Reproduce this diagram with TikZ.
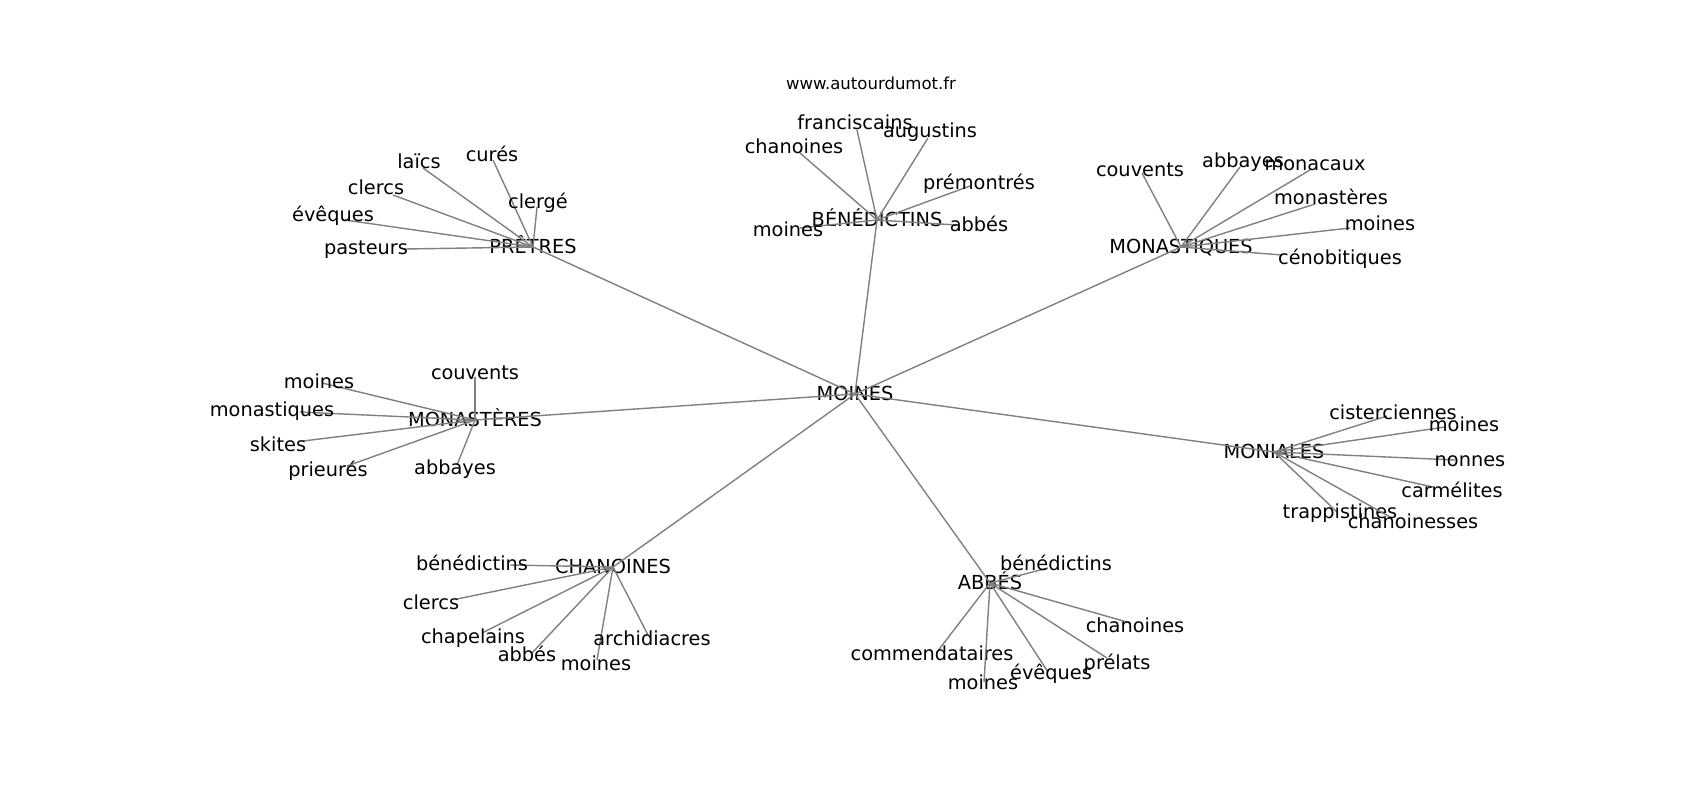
\documentclass[tikz,border=0pt]{standalone}
\usepackage{fontspec}
\setmainfont{DejaVu Sans}
\definecolor{linkGray}{RGB}{128,128,128}
\tikzset{
  wordNode/.style = {inner sep=0pt, text height=0.6em, text depth=0.22em,
    font=\fontsize{5.5}{6.6}\selectfont},
  %hub node
  hubNode/.style = {wordNode},
  %site name
  siteNode/.style = {wordNode, font=\fontsize{4.7}{5.6}\selectfont},
  %link
  linkEdge/.style = {draw=linkGray, line width=0.4pt}
}

\begin{document}
\begin{tikzpicture}[x=0.01cm, y=-0.01cm]
\useasboundingbox (0,0) rectangle (1700,800);
\node [siteNode] (site) at (871,83) {www.autourdumot.fr};

\node [hubNode] (moines) at (855,394) {MOINES};
\node [hubNode] (pretres) at (533,247) {PRÊTRES};
\node [hubNode] (benedictins) at (877,220) {BÉNÉDICTINS};
\node [hubNode] (monastiques) at (1181,247) {MONASTIQUES};
\node [hubNode] (monasteres) at (475,420) {MONASTÈRES};
\node [hubNode] (moniales) at (1274,452) {MONIALES};
\node [hubNode] (chanoines) at (613,567) {CHANOINES};
\node [hubNode] (abbes) at (990,583) {ABBÉS};

\foreach \hub in {pretres,benedictins,monastiques,monasteres,moniales,chanoines,abbes}
  \draw [linkEdge] (moines.center) -- (\hub.center);

% words round each hub: text x/y, end x/y, word
\foreach \tx/\ty/\ex/\ey/\word [count=\i] in {419/162/423/168/laïcs,
    492/155/493/160/curés, 376/188/393/195/clercs, 538/202/537/207/clergé,
    333/215/345/220/évêques, 366/248/405/249/pasteurs}
  {\coordinate (pr\i) at (\ex,\ey);
   \draw [linkEdge] (pretres.center) -- (pr\i);
   \node [wordNode] (prw\i) at (\tx,\ty) {\word};}

\foreach \tx/\ty/\ex/\ey/\word [count=\i] in {855/123/857/130/franciscains,
    930/131/928/138/augustins, 794/147/800/153/chanoines,
    979/183/970/186/prémontrés, 788/230/800/228/moines, 979/225/957/225/abbés}
  {\coordinate (be\i) at (\ex,\ey);
   \draw [linkEdge] (benedictins.center) -- (be\i);
   \node [wordNode] (bew\i) at (\tx,\ty) {\word};}

\foreach \tx/\ty/\ex/\ey/\word [count=\i] in {1140/170/1142/173/couvents,
    1243/161/1240/167/abbayes, 1315/164/1310/170/monacaux,
    1331/198/1315/204/monastères, 1380/224/1350/228/moines,
    1340/258/1282/255/cénobitiques}
  {\coordinate (mq\i) at (\ex,\ey);
   \draw [linkEdge] (monastiques.center) -- (mq\i);
   \node [wordNode] (mqw\i) at (\tx,\ty) {\word};}

\foreach \tx/\ty/\ex/\ey/\word [count=\i] in {475/373/475/377/couvents,
    319/382/322/383/moines, 272/410/300/412/monastiques,
    278/445/303/441/skites, 328/470/347/466/prieurés, 455/468/457/465/abbayes}
  {\coordinate (ms\i) at (\ex,\ey);
   \draw [linkEdge] (monasteres.center) -- (ms\i);
   \node [wordNode] (msw\i) at (\tx,\ty) {\word};}

\foreach \tx/\ty/\ex/\ey/\word [count=\i] in {1393/413/1387/416/cisterciennes,
    1464/425/1445/427/moines, 1470/460/1455/460/nonnes,
    1452/491/1433/487/carmélites, 1340/512/1337/512/trappistines,
    1413/522/1390/517/chanoinesses}
  {\coordinate (mo\i) at (\ex,\ey);
   \draw [linkEdge] (moniales.center) -- (mo\i);
   \node [wordNode] (mow\i) at (\tx,\ty) {\word};}

\foreach \tx/\ty/\ex/\ey/\word [count=\i] in {472/564/510/565/bénédictins,
    431/603/457/599/clercs, 473/637/482/633/chapelains,
    527/655/532/653/abbés, 596/664/597/660/moines,
    652/639/648/635/archidiacres}
  {\coordinate (ch\i) at (\ex,\ey);
   \draw [linkEdge] (chanoines.center) -- (ch\i);
   \node [wordNode] (chw\i) at (\tx,\ty) {\word};}

\foreach \tx/\ty/\ex/\ey/\word [count=\i] in {1056/564/1048/568/bénédictins,
    1135/626/1127/622/chanoines, 932/654/937/652/commendataires,
    983/683/984/682/moines, 1051/673/1048/672/évêques,
    1117/663/1107/658/prélats}
  {\coordinate (ab\i) at (\ex,\ey);
   \draw [linkEdge] (abbes.center) -- (ab\i);
   \node [wordNode] (abw\i) at (\tx,\ty) {\word};}
\end{tikzpicture}
\end{document}
